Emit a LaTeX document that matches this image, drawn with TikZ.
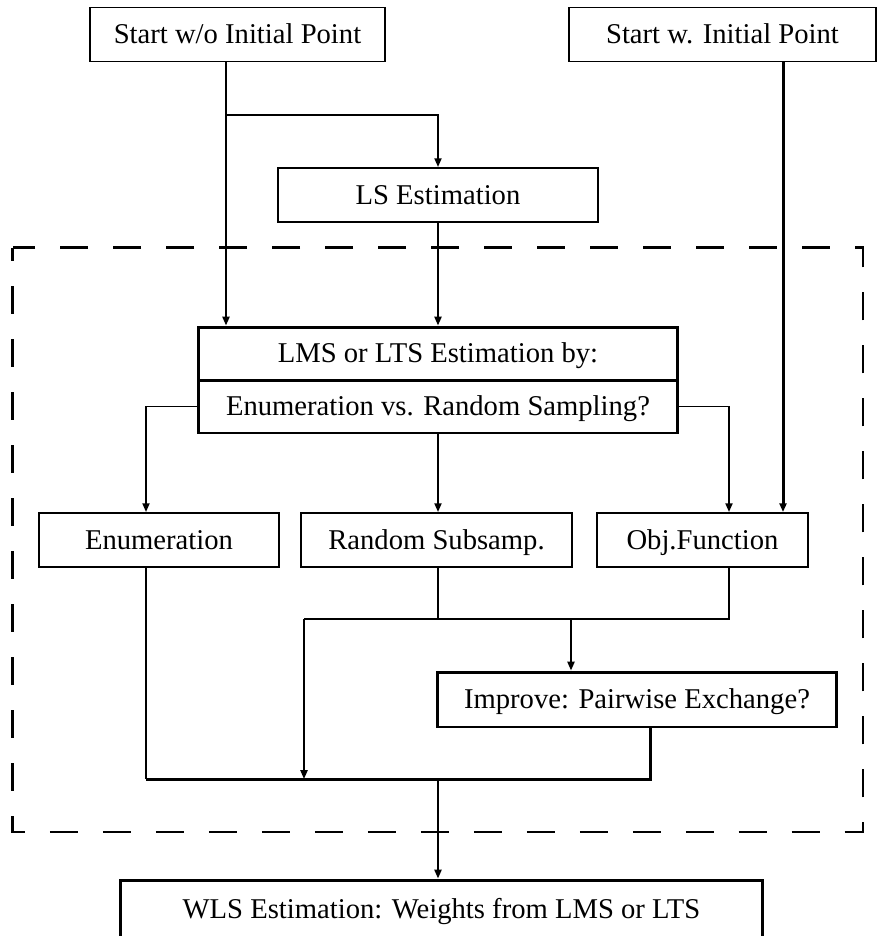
\documentclass[tikz,border=0pt]{standalone}
\usepackage{fontspec}
\setmainfont{Liberation Serif}
\usepackage{tikz}
\usetikzlibrary{arrows.meta, positioning, calc}

\begin{document}
\begin{tikzpicture}[
  x=0.02cm, y=-0.02cm,
  box/.style={draw, line width=1.1pt, inner sep=0pt,
    minimum height=1.08cm, text height=10.8pt, text depth=0pt,
    font=\fontsize{16.3}{19}\selectfont},
  boldbox/.style={box, line width=1.7pt},
  link/.style={line width=1.1pt},
  boldlink/.style={line width=1.7pt},
  frame/.style={line width=1.3pt, dash pattern=on 0.56cm off 0.5cm, dash phase=0.28cm},
  >={Triangle[length=5pt, width=4pt]}
]
  \useasboundingbox (0,0) rectangle (879,936);

  \node[box, minimum width=5.9cm] (nostart) at (237.5,34.5) {Start w/o Initial Point};
  \node[box, minimum width=6.14cm] (withstart) at (722.5,34.5) {Start w. Initial Point};
  \node[box, minimum width=6.4cm] (ls) at (438,195) {LS Estimation};
  \node[boldbox, minimum width=9.6cm, minimum height=1.06cm] (lmstop) at (438,353.5) {LMS or LTS Estimation by:};
  \node[boldbox, minimum width=9.6cm, minimum height=1.06cm] (lmsbot) at (438,406.5) {Enumeration vs. Random Sampling?};
  \node[box, minimum width=4.8cm] (enum) at (159,540) {Enumeration};
  \node[box, minimum width=5.42cm] (rnd) at (436.5,540) {Random Subsamp.};
  \node[box, minimum width=4.22cm] (obj) at (702.5,540) {Obj.Function};
  \node[boldbox, minimum width=8cm, minimum height=1.1cm] (imp) at (637,699.5) {Improve: Pairwise Exchange?};
  \node[boldbox, minimum width=12.86cm, minimum height=1.16cm] (wls) at (441.5,909) {WLS Estimation: Weights from LMS or LTS};

  % dashed frame round the LMS/LTS part
  \draw[frame] (12.5,247.5) rectangle (863,832);

  \coordinate (split) at (226,115);
  \coordinate (colA) at (146,0);
  \coordinate (colB) at (304,0);
  \coordinate (colC) at (571,0);
  \coordinate (colD) at (729,0);
  \coordinate (colE) at (650,0);
  \coordinate (colF) at (783,0);
  \coordinate (merge) at (729,619);
  \coordinate (join) at (438,779);

  \draw[link, ->] (nostart.south -| split) -- (lmstop.north -| split);
  \draw[link, ->] (split) -| (ls.north);
  \draw[link, ->] (ls.south) -- (lmstop.north -| ls.south);
  \draw[boldlink, ->] (withstart.south -| colF) -- (obj.north -| colF);

  \draw[link, ->] (lmsbot.west) -| (enum.north -| colA);
  \draw[link, ->] (lmsbot.south) -- (rnd.north -| lmsbot.south);
  \draw[link, ->] (lmsbot.east) -| (obj.north -| colD);

  \draw[link] (obj.south -| colD) -- (merge) -- (merge -| colB);
  \draw[link, ->] (merge -| colB) -- (join -| colB);
  \draw[link] (rnd.south -| lmsbot.south) -- (merge -| lmsbot.south);
  \draw[link, ->] (merge -| colC) -- (imp.north -| colC);
  \draw[link] (enum.south -| colA) -- (join -| colA);
  \draw[boldlink] (imp.south -| colE) -- (join -| colE) -- (join -| colA);
  \draw[link, ->] (join) -- (wls.north -| join);
\end{tikzpicture}
\end{document}
